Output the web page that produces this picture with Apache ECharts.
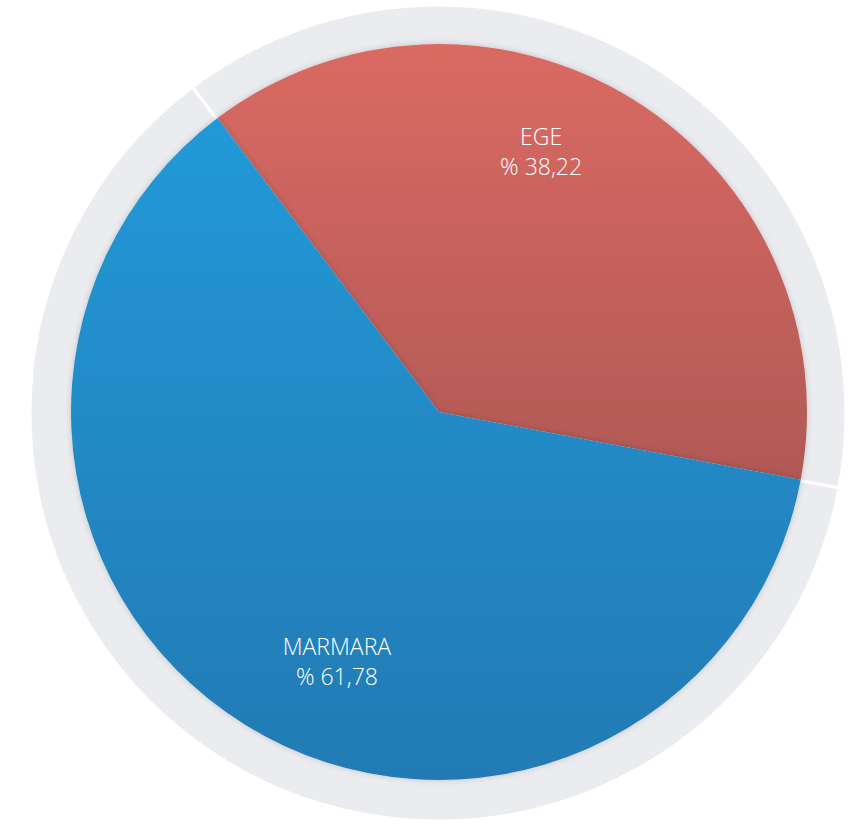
<!DOCTYPE html>
<html>
<head>
<meta charset="utf-8">
<title>Bölgeler</title>
<script src="https://cdn.jsdelivr.net/npm/echarts@6/dist/echarts.min.js"></script>
<style>
    html, body { margin: 0; padding: 0; background: #ffffff; }
    #chart { width: 851px; height: 824px; }
</style>
</head>
<body>
<div id="chart"></div>
<script>
const regions = ["EGE", "MARMARA"];
const shares = [38.22, 61.78];

const topColors = ["#da6a63", "#2399d7"];
const bottomColors = ["#b15955", "#227ab4"];

function percentText(v) {
    return "% " + v.toFixed(2).replace(".", ",");
}

function buildData(withColor) {
    let out = [];
    for (let i = 0; i < regions.length; i++) {
        let item = { name: regions[i], value: shares[i] };
        if (withColor) {
            item.itemStyle = {
                color: new echarts.graphic.LinearGradient(0, 0, 0, 1, [
                    { offset: 0, color: topColors[i] },
                    { offset: 1, color: bottomColors[i] }
                ])
            };
        }
        out.push(item);
    }
    return out;
}

const chart = echarts.init(document.getElementById('chart'), null, { renderer: 'svg' });

chart.setOption({
    animation: false,
    series: [
        {
            // grey ring behind the pie
            type: 'pie',
            center: [438, 413],
            radius: [0, 408],
            startAngle: 127,
            silent: true,
            label: { show: false },
            labelLine: { show: false },
            itemStyle: { color: '#ebecf0', borderColor: '#ffffff', borderWidth: 3 },
            data: buildData(false)
        },
        {
            type: 'pie',
            center: [439, 412],
            radius: [0, 368],
            startAngle: 127,
            label: { show: false },
            labelLine: { show: false },
            itemStyle: {
                shadowBlur: 6,
                shadowColor: 'rgba(0,0,0,0.18)'
            },
            data: buildData(true)
        },
        {
            // labels only
            type: 'pie',
            center: [439, 406],
            radius: [176, 368],
            startAngle: 137,
            silent: true,
            itemStyle: { color: 'rgba(0,0,0,0)' },
            labelLine: { show: false },
            label: {
                show: true,
                position: 'inside',
                color: '#ffffff',
                fontFamily: 'Open Sans',
                fontWeight: 300,
                fontSize: 23,
                lineHeight: 30,
                formatter: function (p) {
                    return p.name + "\n" + percentText(p.value);
                }
            },
            data: buildData(false)
        }
    ]
});
</script>
</body>
</html>
